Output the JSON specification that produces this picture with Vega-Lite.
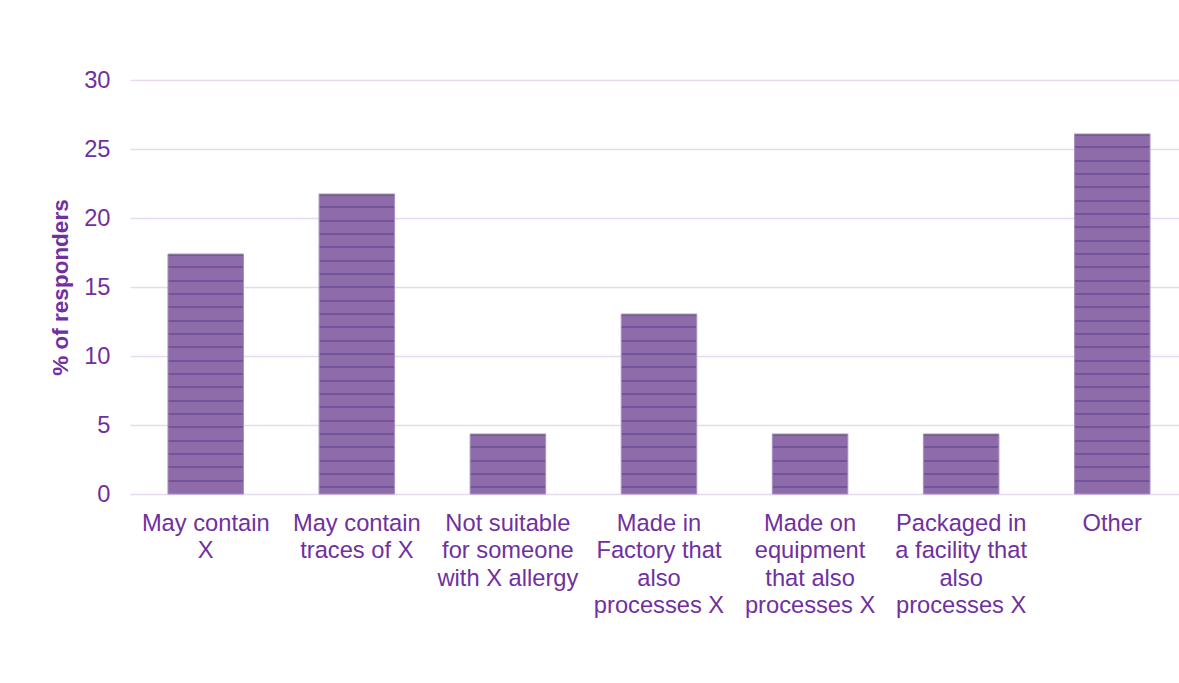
{
"$schema": "https://vega.github.io/schema/vega-lite/v6.json",
"autosize": {"type": "none"},
"padding": {"left": 130, "top": 80, "right": 0, "bottom": 189},
"width": 1049,
"height": 414,
"background": "white",
"config": {"view": {"stroke": null}, "font": "Liberation Sans"},
"data": {"values": [
{"label": "May contain|X", "pct": 17.39},
{"label": "May contain|traces of X", "pct": 21.74},
{"label": "Not suitable|for someone|with X allergy", "pct": 4.35},
{"label": "Made in|Factory that|also|processes X", "pct": 13.04},
{"label": "Made on|equipment|that also|processes X", "pct": 4.35},
{"label": "Packaged in|a facility that|also|processes X", "pct": 4.35},
{"label": "Other", "pct": 26.09}
]},
"mark": {"type": "bar", "stroke": "#a990c4", "strokeWidth": 1},
"encoding": {
"x": {"field": "label", "type": "nominal", "sort": null,
 "scale": {"paddingInner": 0.5, "paddingOuter": 0.2216, "align": 0.567},
 "axis": {"title": null, "labelAngle": 0, "domain": false, "ticks": false, "labelFontSize": 23.7, "labelColor": "#7030A0", "labelPadding": 17, "labelLineHeight": 27.5, "labelExpr": "split(datum.label, '|')", "labelLimit": 0, "labelOverlap": false, "labelBound": false, "labelAlign": "center", "labelBaseline": "top"}},
"y": {"field": "pct", "type": "quantitative", "scale": {"domain": [0, 30]},
 "axis": {"values": [0, 5, 10, 15, 20, 25, 30], "title": "% of responders", "titleFontSize": 22.5, "titleFontWeight": "bold", "titleColor": "#7030A0", "titlePadding": 11, "labelFontSize": 23.7, "labelColor": "#7030A0", "labelPadding": 20, "ticks": false, "domain": false, "gridColor": "#e6d9f0", "gridWidth": 1.5}},
"fill": {
 "condition": [
  {"test": "datum.pct > 25", "value": {"gradient": "linear", "x1": 0, "y1": 0, "x2": 0, "y2": 1, "stops": [
   {"offset": 0, "color": "#6e5f7b"}, {"offset": 0.0056, "color": "#6e5f7b"}, {"offset": 0.0056, "color": "#8d6ca9"},
   {"offset": 0.0343, "color": "#8d6ca9"}, {"offset": 0.0343, "color": "#75539a"}, {"offset": 0.0398, "color": "#75539a"}, {"offset": 0.0398, "color": "#8d6ca9"},
   {"offset": 0.0713, "color": "#8d6ca9"}, {"offset": 0.0713, "color": "#75539a"}, {"offset": 0.0769, "color": "#75539a"}, {"offset": 0.0769, "color": "#8d6ca9"},
   {"offset": 0.1083, "color": "#8d6ca9"}, {"offset": 0.1083, "color": "#75539a"}, {"offset": 0.1139, "color": "#75539a"}, {"offset": 0.1139, "color": "#8d6ca9"},
   {"offset": 0.1454, "color": "#8d6ca9"}, {"offset": 0.1454, "color": "#75539a"}, {"offset": 0.1509, "color": "#75539a"}, {"offset": 0.1509, "color": "#8d6ca9"},
   {"offset": 0.1824, "color": "#8d6ca9"}, {"offset": 0.1824, "color": "#75539a"}, {"offset": 0.1880, "color": "#75539a"}, {"offset": 0.1880, "color": "#8d6ca9"},
   {"offset": 0.2194, "color": "#8d6ca9"}, {"offset": 0.2194, "color": "#75539a"}, {"offset": 0.2250, "color": "#75539a"}, {"offset": 0.2250, "color": "#8d6ca9"},
   {"offset": 0.2565, "color": "#8d6ca9"}, {"offset": 0.2565, "color": "#75539a"}, {"offset": 0.2620, "color": "#75539a"}, {"offset": 0.2620, "color": "#8d6ca9"},
   {"offset": 0.2935, "color": "#8d6ca9"}, {"offset": 0.2935, "color": "#75539a"}, {"offset": 0.2991, "color": "#75539a"}, {"offset": 0.2991, "color": "#8d6ca9"},
   {"offset": 0.3306, "color": "#8d6ca9"}, {"offset": 0.3306, "color": "#75539a"}, {"offset": 0.3361, "color": "#75539a"}, {"offset": 0.3361, "color": "#8d6ca9"},
   {"offset": 0.3676, "color": "#8d6ca9"}, {"offset": 0.3676, "color": "#75539a"}, {"offset": 0.3731, "color": "#75539a"}, {"offset": 0.3731, "color": "#8d6ca9"},
   {"offset": 0.4046, "color": "#8d6ca9"}, {"offset": 0.4046, "color": "#75539a"}, {"offset": 0.4102, "color": "#75539a"}, {"offset": 0.4102, "color": "#8d6ca9"},
   {"offset": 0.4417, "color": "#8d6ca9"}, {"offset": 0.4417, "color": "#75539a"}, {"offset": 0.4472, "color": "#75539a"}, {"offset": 0.4472, "color": "#8d6ca9"},
   {"offset": 0.4787, "color": "#8d6ca9"}, {"offset": 0.4787, "color": "#75539a"}, {"offset": 0.4843, "color": "#75539a"}, {"offset": 0.4843, "color": "#8d6ca9"},
   {"offset": 0.5157, "color": "#8d6ca9"}, {"offset": 0.5157, "color": "#75539a"}, {"offset": 0.5213, "color": "#75539a"}, {"offset": 0.5213, "color": "#8d6ca9"},
   {"offset": 0.5528, "color": "#8d6ca9"}, {"offset": 0.5528, "color": "#75539a"}, {"offset": 0.5583, "color": "#75539a"}, {"offset": 0.5583, "color": "#8d6ca9"},
   {"offset": 0.5898, "color": "#8d6ca9"}, {"offset": 0.5898, "color": "#75539a"}, {"offset": 0.5954, "color": "#75539a"}, {"offset": 0.5954, "color": "#8d6ca9"},
   {"offset": 0.6269, "color": "#8d6ca9"}, {"offset": 0.6269, "color": "#75539a"}, {"offset": 0.6324, "color": "#75539a"}, {"offset": 0.6324, "color": "#8d6ca9"},
   {"offset": 0.6639, "color": "#8d6ca9"}, {"offset": 0.6639, "color": "#75539a"}, {"offset": 0.6694, "color": "#75539a"}, {"offset": 0.6694, "color": "#8d6ca9"},
   {"offset": 0.7009, "color": "#8d6ca9"}, {"offset": 0.7009, "color": "#75539a"}, {"offset": 0.7065, "color": "#75539a"}, {"offset": 0.7065, "color": "#8d6ca9"},
   {"offset": 0.7380, "color": "#8d6ca9"}, {"offset": 0.7380, "color": "#75539a"}, {"offset": 0.7435, "color": "#75539a"}, {"offset": 0.7435, "color": "#8d6ca9"},
   {"offset": 0.7750, "color": "#8d6ca9"}, {"offset": 0.7750, "color": "#75539a"}, {"offset": 0.7806, "color": "#75539a"}, {"offset": 0.7806, "color": "#8d6ca9"},
   {"offset": 0.8120, "color": "#8d6ca9"}, {"offset": 0.8120, "color": "#75539a"}, {"offset": 0.8176, "color": "#75539a"}, {"offset": 0.8176, "color": "#8d6ca9"},
   {"offset": 0.8491, "color": "#8d6ca9"}, {"offset": 0.8491, "color": "#75539a"}, {"offset": 0.8546, "color": "#75539a"}, {"offset": 0.8546, "color": "#8d6ca9"},
   {"offset": 0.8861, "color": "#8d6ca9"}, {"offset": 0.8861, "color": "#75539a"}, {"offset": 0.8917, "color": "#75539a"}, {"offset": 0.8917, "color": "#8d6ca9"},
   {"offset": 0.9231, "color": "#8d6ca9"}, {"offset": 0.9231, "color": "#75539a"}, {"offset": 0.9287, "color": "#75539a"}, {"offset": 0.9287, "color": "#8d6ca9"},
   {"offset": 0.9602, "color": "#8d6ca9"}, {"offset": 0.9602, "color": "#75539a"}, {"offset": 0.9657, "color": "#75539a"}, {"offset": 0.9657, "color": "#8d6ca9"},
   {"offset": 1, "color": "#8d6ca9"}]}},
  {"test": "datum.pct > 20", "value": {"gradient": "linear", "x1": 0, "y1": 0, "x2": 0, "y2": 1, "stops": [
   {"offset": 0, "color": "#6e5f7b"}, {"offset": 0.0067, "color": "#6e5f7b"}, {"offset": 0.0067, "color": "#8d6ca9"},
   {"offset": 0.0411, "color": "#8d6ca9"}, {"offset": 0.0411, "color": "#75539a"}, {"offset": 0.0478, "color": "#75539a"}, {"offset": 0.0478, "color": "#8d6ca9"},
   {"offset": 0.0856, "color": "#8d6ca9"}, {"offset": 0.0856, "color": "#75539a"}, {"offset": 0.0922, "color": "#75539a"}, {"offset": 0.0922, "color": "#8d6ca9"},
   {"offset": 0.1300, "color": "#8d6ca9"}, {"offset": 0.1300, "color": "#75539a"}, {"offset": 0.1367, "color": "#75539a"}, {"offset": 0.1367, "color": "#8d6ca9"},
   {"offset": 0.1744, "color": "#8d6ca9"}, {"offset": 0.1744, "color": "#75539a"}, {"offset": 0.1811, "color": "#75539a"}, {"offset": 0.1811, "color": "#8d6ca9"},
   {"offset": 0.2189, "color": "#8d6ca9"}, {"offset": 0.2189, "color": "#75539a"}, {"offset": 0.2256, "color": "#75539a"}, {"offset": 0.2256, "color": "#8d6ca9"},
   {"offset": 0.2633, "color": "#8d6ca9"}, {"offset": 0.2633, "color": "#75539a"}, {"offset": 0.2700, "color": "#75539a"}, {"offset": 0.2700, "color": "#8d6ca9"},
   {"offset": 0.3078, "color": "#8d6ca9"}, {"offset": 0.3078, "color": "#75539a"}, {"offset": 0.3144, "color": "#75539a"}, {"offset": 0.3144, "color": "#8d6ca9"},
   {"offset": 0.3522, "color": "#8d6ca9"}, {"offset": 0.3522, "color": "#75539a"}, {"offset": 0.3589, "color": "#75539a"}, {"offset": 0.3589, "color": "#8d6ca9"},
   {"offset": 0.3967, "color": "#8d6ca9"}, {"offset": 0.3967, "color": "#75539a"}, {"offset": 0.4033, "color": "#75539a"}, {"offset": 0.4033, "color": "#8d6ca9"},
   {"offset": 0.4411, "color": "#8d6ca9"}, {"offset": 0.4411, "color": "#75539a"}, {"offset": 0.4478, "color": "#75539a"}, {"offset": 0.4478, "color": "#8d6ca9"},
   {"offset": 0.4856, "color": "#8d6ca9"}, {"offset": 0.4856, "color": "#75539a"}, {"offset": 0.4922, "color": "#75539a"}, {"offset": 0.4922, "color": "#8d6ca9"},
   {"offset": 0.5300, "color": "#8d6ca9"}, {"offset": 0.5300, "color": "#75539a"}, {"offset": 0.5367, "color": "#75539a"}, {"offset": 0.5367, "color": "#8d6ca9"},
   {"offset": 0.5744, "color": "#8d6ca9"}, {"offset": 0.5744, "color": "#75539a"}, {"offset": 0.5811, "color": "#75539a"}, {"offset": 0.5811, "color": "#8d6ca9"},
   {"offset": 0.6189, "color": "#8d6ca9"}, {"offset": 0.6189, "color": "#75539a"}, {"offset": 0.6256, "color": "#75539a"}, {"offset": 0.6256, "color": "#8d6ca9"},
   {"offset": 0.6633, "color": "#8d6ca9"}, {"offset": 0.6633, "color": "#75539a"}, {"offset": 0.6700, "color": "#75539a"}, {"offset": 0.6700, "color": "#8d6ca9"},
   {"offset": 0.7078, "color": "#8d6ca9"}, {"offset": 0.7078, "color": "#75539a"}, {"offset": 0.7144, "color": "#75539a"}, {"offset": 0.7144, "color": "#8d6ca9"},
   {"offset": 0.7522, "color": "#8d6ca9"}, {"offset": 0.7522, "color": "#75539a"}, {"offset": 0.7589, "color": "#75539a"}, {"offset": 0.7589, "color": "#8d6ca9"},
   {"offset": 0.7967, "color": "#8d6ca9"}, {"offset": 0.7967, "color": "#75539a"}, {"offset": 0.8033, "color": "#75539a"}, {"offset": 0.8033, "color": "#8d6ca9"},
   {"offset": 0.8411, "color": "#8d6ca9"}, {"offset": 0.8411, "color": "#75539a"}, {"offset": 0.8478, "color": "#75539a"}, {"offset": 0.8478, "color": "#8d6ca9"},
   {"offset": 0.8856, "color": "#8d6ca9"}, {"offset": 0.8856, "color": "#75539a"}, {"offset": 0.8922, "color": "#75539a"}, {"offset": 0.8922, "color": "#8d6ca9"},
   {"offset": 0.9300, "color": "#8d6ca9"}, {"offset": 0.9300, "color": "#75539a"}, {"offset": 0.9367, "color": "#75539a"}, {"offset": 0.9367, "color": "#8d6ca9"},
   {"offset": 0.9744, "color": "#8d6ca9"}, {"offset": 0.9744, "color": "#75539a"}, {"offset": 0.9811, "color": "#75539a"}, {"offset": 0.9811, "color": "#8d6ca9"},
   {"offset": 1, "color": "#8d6ca9"}]}},
  {"test": "datum.pct > 15", "value": {"gradient": "linear", "x1": 0, "y1": 0, "x2": 0, "y2": 1, "stops": [
   {"offset": 0, "color": "#6e5f7b"}, {"offset": 0.0083, "color": "#6e5f7b"}, {"offset": 0.0083, "color": "#8d6ca9"},
   {"offset": 0.0514, "color": "#8d6ca9"}, {"offset": 0.0514, "color": "#75539a"}, {"offset": 0.0597, "color": "#75539a"}, {"offset": 0.0597, "color": "#8d6ca9"},
   {"offset": 0.1069, "color": "#8d6ca9"}, {"offset": 0.1069, "color": "#75539a"}, {"offset": 0.1153, "color": "#75539a"}, {"offset": 0.1153, "color": "#8d6ca9"},
   {"offset": 0.1625, "color": "#8d6ca9"}, {"offset": 0.1625, "color": "#75539a"}, {"offset": 0.1708, "color": "#75539a"}, {"offset": 0.1708, "color": "#8d6ca9"},
   {"offset": 0.2181, "color": "#8d6ca9"}, {"offset": 0.2181, "color": "#75539a"}, {"offset": 0.2264, "color": "#75539a"}, {"offset": 0.2264, "color": "#8d6ca9"},
   {"offset": 0.2736, "color": "#8d6ca9"}, {"offset": 0.2736, "color": "#75539a"}, {"offset": 0.2819, "color": "#75539a"}, {"offset": 0.2819, "color": "#8d6ca9"},
   {"offset": 0.3292, "color": "#8d6ca9"}, {"offset": 0.3292, "color": "#75539a"}, {"offset": 0.3375, "color": "#75539a"}, {"offset": 0.3375, "color": "#8d6ca9"},
   {"offset": 0.3847, "color": "#8d6ca9"}, {"offset": 0.3847, "color": "#75539a"}, {"offset": 0.3931, "color": "#75539a"}, {"offset": 0.3931, "color": "#8d6ca9"},
   {"offset": 0.4403, "color": "#8d6ca9"}, {"offset": 0.4403, "color": "#75539a"}, {"offset": 0.4486, "color": "#75539a"}, {"offset": 0.4486, "color": "#8d6ca9"},
   {"offset": 0.4958, "color": "#8d6ca9"}, {"offset": 0.4958, "color": "#75539a"}, {"offset": 0.5042, "color": "#75539a"}, {"offset": 0.5042, "color": "#8d6ca9"},
   {"offset": 0.5514, "color": "#8d6ca9"}, {"offset": 0.5514, "color": "#75539a"}, {"offset": 0.5597, "color": "#75539a"}, {"offset": 0.5597, "color": "#8d6ca9"},
   {"offset": 0.6069, "color": "#8d6ca9"}, {"offset": 0.6069, "color": "#75539a"}, {"offset": 0.6153, "color": "#75539a"}, {"offset": 0.6153, "color": "#8d6ca9"},
   {"offset": 0.6625, "color": "#8d6ca9"}, {"offset": 0.6625, "color": "#75539a"}, {"offset": 0.6708, "color": "#75539a"}, {"offset": 0.6708, "color": "#8d6ca9"},
   {"offset": 0.7181, "color": "#8d6ca9"}, {"offset": 0.7181, "color": "#75539a"}, {"offset": 0.7264, "color": "#75539a"}, {"offset": 0.7264, "color": "#8d6ca9"},
   {"offset": 0.7736, "color": "#8d6ca9"}, {"offset": 0.7736, "color": "#75539a"}, {"offset": 0.7819, "color": "#75539a"}, {"offset": 0.7819, "color": "#8d6ca9"},
   {"offset": 0.8292, "color": "#8d6ca9"}, {"offset": 0.8292, "color": "#75539a"}, {"offset": 0.8375, "color": "#75539a"}, {"offset": 0.8375, "color": "#8d6ca9"},
   {"offset": 0.8847, "color": "#8d6ca9"}, {"offset": 0.8847, "color": "#75539a"}, {"offset": 0.8931, "color": "#75539a"}, {"offset": 0.8931, "color": "#8d6ca9"},
   {"offset": 0.9403, "color": "#8d6ca9"}, {"offset": 0.9403, "color": "#75539a"}, {"offset": 0.9486, "color": "#75539a"}, {"offset": 0.9486, "color": "#8d6ca9"},
   {"offset": 1, "color": "#8d6ca9"}]}},
  {"test": "datum.pct > 10", "value": {"gradient": "linear", "x1": 0, "y1": 0, "x2": 0, "y2": 1, "stops": [
   {"offset": 0, "color": "#6e5f7b"}, {"offset": 0.011, "color": "#6e5f7b"}, {"offset": 0.011, "color": "#8d6ca9"},
   {"offset": 0.0685, "color": "#8d6ca9"}, {"offset": 0.0685, "color": "#75539a"}, {"offset": 0.0796, "color": "#75539a"}, {"offset": 0.0796, "color": "#8d6ca9"},
   {"offset": 0.1426, "color": "#8d6ca9"}, {"offset": 0.1426, "color": "#75539a"}, {"offset": 0.1537, "color": "#75539a"}, {"offset": 0.1537, "color": "#8d6ca9"},
   {"offset": 0.2167, "color": "#8d6ca9"}, {"offset": 0.2167, "color": "#75539a"}, {"offset": 0.2278, "color": "#75539a"}, {"offset": 0.2278, "color": "#8d6ca9"},
   {"offset": 0.2907, "color": "#8d6ca9"}, {"offset": 0.2907, "color": "#75539a"}, {"offset": 0.3019, "color": "#75539a"}, {"offset": 0.3019, "color": "#8d6ca9"},
   {"offset": 0.3648, "color": "#8d6ca9"}, {"offset": 0.3648, "color": "#75539a"}, {"offset": 0.3759, "color": "#75539a"}, {"offset": 0.3759, "color": "#8d6ca9"},
   {"offset": 0.4389, "color": "#8d6ca9"}, {"offset": 0.4389, "color": "#75539a"}, {"offset": 0.4500, "color": "#75539a"}, {"offset": 0.4500, "color": "#8d6ca9"},
   {"offset": 0.5130, "color": "#8d6ca9"}, {"offset": 0.5130, "color": "#75539a"}, {"offset": 0.5241, "color": "#75539a"}, {"offset": 0.5241, "color": "#8d6ca9"},
   {"offset": 0.5870, "color": "#8d6ca9"}, {"offset": 0.5870, "color": "#75539a"}, {"offset": 0.5981, "color": "#75539a"}, {"offset": 0.5981, "color": "#8d6ca9"},
   {"offset": 0.6611, "color": "#8d6ca9"}, {"offset": 0.6611, "color": "#75539a"}, {"offset": 0.6722, "color": "#75539a"}, {"offset": 0.6722, "color": "#8d6ca9"},
   {"offset": 0.7352, "color": "#8d6ca9"}, {"offset": 0.7352, "color": "#75539a"}, {"offset": 0.7463, "color": "#75539a"}, {"offset": 0.7463, "color": "#8d6ca9"},
   {"offset": 0.8093, "color": "#8d6ca9"}, {"offset": 0.8093, "color": "#75539a"}, {"offset": 0.8204, "color": "#75539a"}, {"offset": 0.8204, "color": "#8d6ca9"},
   {"offset": 0.8833, "color": "#8d6ca9"}, {"offset": 0.8833, "color": "#75539a"}, {"offset": 0.8944, "color": "#75539a"}, {"offset": 0.8944, "color": "#8d6ca9"},
   {"offset": 0.9574, "color": "#8d6ca9"}, {"offset": 0.9574, "color": "#75539a"}, {"offset": 0.9685, "color": "#75539a"}, {"offset": 0.9685, "color": "#8d6ca9"},
   {"offset": 1, "color": "#8d6ca9"}]}}
 ],
 "value": {"gradient": "linear", "x1": 0, "y1": 0, "x2": 0, "y2": 1, "stops": [
   {"offset": 0, "color": "#6e5f7b"}, {"offset": 0.03, "color": "#6e5f7b"}, {"offset": 0.03, "color": "#8d6ca9"},
   {"offset": 0.206, "color": "#8d6ca9"}, {"offset": 0.206, "color": "#75539a"}, {"offset": 0.239, "color": "#75539a"}, {"offset": 0.239, "color": "#8d6ca9"},
   {"offset": 0.428, "color": "#8d6ca9"}, {"offset": 0.428, "color": "#75539a"}, {"offset": 0.461, "color": "#75539a"}, {"offset": 0.461, "color": "#8d6ca9"},
   {"offset": 0.65, "color": "#8d6ca9"}, {"offset": 0.65, "color": "#75539a"}, {"offset": 0.683, "color": "#75539a"}, {"offset": 0.683, "color": "#8d6ca9"},
   {"offset": 0.872, "color": "#8d6ca9"}, {"offset": 0.872, "color": "#75539a"}, {"offset": 0.906, "color": "#75539a"}, {"offset": 0.906, "color": "#8d6ca9"},
   {"offset": 1, "color": "#8d6ca9"}]}
}
}
}
